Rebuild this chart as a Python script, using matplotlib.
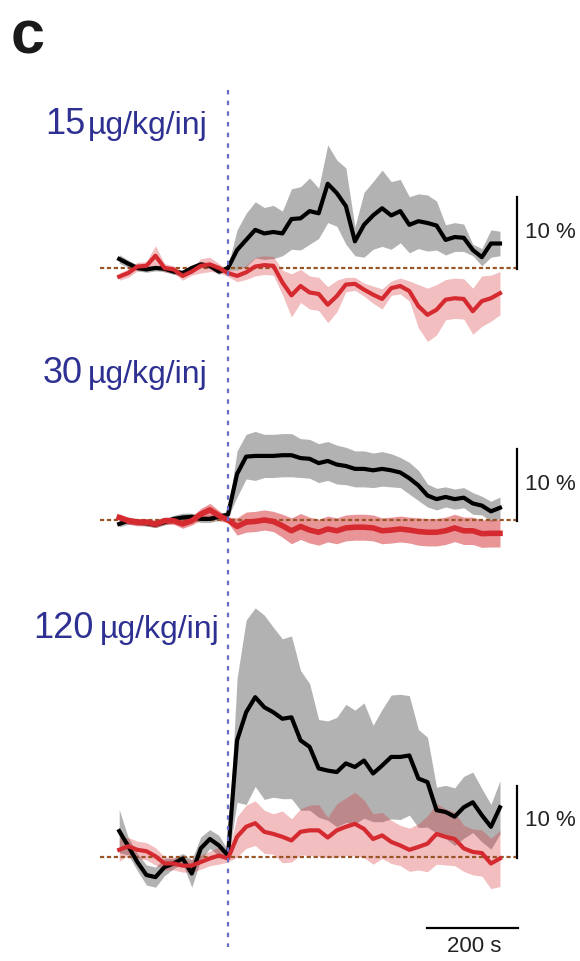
import numpy as np
import matplotlib
matplotlib.use("Agg")
import matplotlib.pyplot as plt

plt.rcParams['font.family'] = ['Liberation Sans', 'DejaVu Sans']

# ---------------- data ----------------
time_s = np.arange(-240, 601, 20)

doses = ["15", "30", "120"]
dose_unit = "µg/kg/inj"

# panel 1 (15 ug/kg/inj)
p1_black_mean = [1.25, 0.6, 0.0, -0.2, 0.0, -0.1, -0.5, -0.7, 0.0, 0.5, 0.3, -0.5, 0.0,
                 2.5, 3.9, 5.3, 4.8, 5.0, 4.8, 6.8, 6.9, 7.9, 7.6,
                 11.7, 10.4, 8.6, 3.7, 6.0, 7.3, 8.3, 7.3, 7.9, 6.0,
                 6.5, 6.25, 5.9, 3.9, 4.3, 4.2, 2.5, 1.5, 3.4, 3.4]
p1_black_sem = [0.6, 0.5, 0.4, 0.4, 0.4, 0.4, 0.4, 0.4, 0.4, 0.4, 0.4, 0.4, 0.3,
                2.8, 3.7, 3.9, 3.6, 3.7, 3.1, 4.2, 4.4, 4.6, 3.5,
                5.4, 4.6, 5.3, 2.0, 4.5, 4.7, 5.3, 4.7, 4.4, 3.9,
                3.8, 3.9, 3.4, 2.1, 2.0, 1.9, 0.8, 1.2, 1.9, 1.7]
p1_red_mean = [-1.2, -0.7, 0.2, 0.3, 1.7, 0.0, -0.2, -1.1, -0.5, 0.3, 0.5, 0.0, -0.7,
               -1.1, -0.6, 0.2, 0.4, 0.3, -2.0, -3.8, -2.5, -3.4, -3.6,
               -5.1, -3.9, -2.3, -2.2, -3.0, -3.7, -4.3, -2.8, -2.5, -3.2,
               -5.3, -6.5, -5.8, -4.4, -4.2, -4.3, -6.0, -4.6, -4.2, -3.5]
p1_red_sem = [0.5, 0.6, 0.6, 0.6, 1.4, 0.6, 0.5, 0.6, 0.5, 1.0, 1.0, 0.6, 0.5,
              0.8, 1.0, 1.3, 1.3, 1.3, 1.7, 3.0, 2.3, 2.3, 2.3,
              2.5, 2.2, 1.0, 0.9, 0.9, 1.2, 1.4, 1.0, 1.1, 1.4,
              3.0, 3.7, 3.5, 2.8, 2.8, 2.8, 3.2, 3.5, 3.2, 3.0]

# panel 2 (30 ug/kg/inj)
p2_black_mean = [-0.55, -0.1, -0.3, -0.45, -0.65, -0.3, 0.15, 0.35, 0.45, 0.15, 0.15, 0.45, 0.75,
                 6.4, 8.8, 8.9, 8.9, 8.9, 9.0, 9.0, 8.6, 8.5, 7.9,
                 8.2, 7.7, 7.5, 7.1, 7.1, 6.9, 7.1, 6.9, 6.6, 5.8,
                 4.8, 3.4, 2.9, 3.2, 2.9, 3.1, 2.3, 2.0, 1.2, 1.7]
p2_black_sem = [0.4, 0.5, 0.4, 0.4, 0.4, 0.4, 0.5, 0.6, 0.5, 0.5, 0.5, 0.5, 0.4,
                3.2, 3.1, 3.4, 3.0, 3.0, 3.0, 3.0, 2.7, 2.7, 2.7,
                2.7, 2.7, 2.6, 2.5, 2.5, 2.4, 2.4, 2.3, 2.1, 2.2,
                2.1, 1.6, 1.5, 1.4, 1.4, 1.4, 1.5, 1.3, 1.4, 1.5]
p2_red_mean = [0.35, -0.1, -0.3, -0.3, -0.55, -0.1, -0.1, -0.55, -0.1, 0.8, 1.4, 0.6, 0.0,
               -0.9, -0.3, -0.2, 0.0, -0.2, -0.8, -1.5, -0.9, -1.4, -1.7,
               -1.25, -1.5, -1.1, -1.0, -1.0, -1.1, -1.5, -1.4, -1.25, -1.4,
               -1.6, -1.7, -1.7, -1.5, -1.1, -1.5, -1.5, -1.9, -1.85, -1.85]
p2_red_sem = [0.5, 0.5, 0.5, 0.5, 0.5, 0.5, 0.5, 0.6, 0.6, 0.8, 0.9, 0.7, 0.4,
              1.2, 1.4, 1.4, 1.4, 1.4, 1.6, 1.8, 1.8, 1.8, 1.8,
              1.8, 1.8, 1.8, 1.8, 1.8, 1.8, 1.8, 1.8, 1.8, 1.8,
              1.9, 1.9, 1.9, 1.9, 1.9, 1.9, 1.9, 1.9, 1.9, 1.9]

# panel 3 (120 ug/kg/inj)
p3_black_mean = [3.6, 1.5, -0.7, -2.5, -2.8, -1.4, -0.9, -0.2, -2.3, 1.2, 2.5, 1.6, 0.2,
                 16.2, 20.1, 22.2, 20.8, 20.1, 19.2, 19.4, 16.2, 15.3, 12.3,
                 12.0, 11.8, 13.0, 12.5, 13.4, 11.6, 12.7, 13.9, 13.9, 14.1,
                 10.9, 10.4, 6.5, 6.25, 5.6, 6.9, 7.6, 5.8, 4.2, 6.9]
p3_black_sem = [3.0, 1.2, 1.2, 1.4, 1.4, 1.2, 0.7, 0.7, 1.9, 1.6, 1.3, 1.4, 0.7,
                8.6, 12.8, 12.4, 12.8, 11.8, 11.1, 11.3, 9.7, 8.8, 6.8,
                6.9, 7.6, 8.2, 7.9, 8.0, 6.7, 7.8, 8.6, 8.7, 8.3,
                6.8, 6.25, 3.2, 3.7, 4.0, 4.3, 4.2, 3.7, 3.1, 3.7]
p3_red_mean = [1.0, 1.5, 1.0, 0.8, 0.1, -0.9, -0.9, -1.2, -1.2, -0.7, -0.2, 0.2, -0.2,
               2.8, 4.2, 4.7, 3.5, 3.2, 2.8, 2.3, 3.5, 3.7, 3.7,
               2.7, 3.7, 4.2, 4.6, 3.9, 2.5, 3.0, 2.1, 1.6, 1.0,
               1.4, 1.85, 3.2, 2.8, 2.5, 1.2, 0.7, 0.55, -0.9, -0.2]
p3_red_sem = [1.6, 1.2, 1.2, 1.2, 1.2, 0.9, 0.9, 0.9, 0.9, 1.0, 1.0, 1.2, 0.5,
              2.8, 3.0, 3.1, 3.0, 2.8, 3.6, 3.0, 3.2, 3.5, 3.6,
              2.8, 3.7, 4.0, 4.4, 4.0, 3.5, 3.2, 3.0, 2.8, 3.0,
              3.2, 3.9, 4.2, 3.9, 3.7, 3.2, 3.2, 3.2, 3.5, 3.9]

panels = [
    (p1_black_mean, p1_black_sem, p1_red_mean, p1_red_sem),
    (p2_black_mean, p2_black_sem, p2_red_mean, p2_red_sem),
    (p3_black_mean, p3_black_sem, p3_red_mean, p3_red_sem),
]

# ---------------- layout ----------------
W, H = 580, 961
PX_PER_S = 0.45333
X0 = 228  # pixel of t = 0
XL = ((0 - X0) / PX_PER_S, (W - X0) / PX_PER_S)
PX_PER_PCT = 7.2

def px2t(px):
    return (px - X0) / PX_PER_S

# (top_px, bottom_px, baseline_px)
panel_boxes = [(130, 350, 268), (410, 565, 520), (600, 905, 857)]
red_alpha = [0.3, 0.5, 0.3]
red_lw = [3.0, 4.0, 3.0]
label_pos = [(45, 88, 134), (43, 88, 383), (33, 100, 638)]  # num x, unit x, baseline y (px)

RED = '#d42a30'
NAVY = '#2e3192'
BROWN = '#9a5526'
VLINE = '#6b6bc4'

fig = plt.figure(figsize=(W / 100, H / 100), dpi=100)

for i, (bm, bs, rm, rs) in enumerate(panels):
    top, bot, base = panel_boxes[i]
    ax = fig.add_axes([0, 1 - bot / H, 1, (bot - top) / H])
    ax.set_xlim(XL)
    ax.set_ylim((base - bot) / PX_PER_PCT, (base - top) / PX_PER_PCT)
    ax.axis('off')
    bm, bs, rm, rs = map(np.asarray, (bm, bs, rm, rs))
    ax.fill_between(time_s, bm - bs, bm + bs, color='black', alpha=0.3, lw=0, zorder=1)
    ax.fill_between(time_s, rm - rs, rm + rs, color=RED, alpha=red_alpha[i], lw=0, zorder=2)
    ax.plot([px2t(100), px2t(517)], [0, 0], color=BROWN, lw=1.6,
            dashes=(1.9, 1.2), zorder=3)
    ax.plot(time_s, bm, color='black', lw=3.0, zorder=4)
    ax.plot(time_s, rm, color=RED, lw=red_lw[i], zorder=5)
    # 10 % scale bar
    ax.plot([px2t(517), px2t(517)], [-0.2, 9.8], color='black', lw=1.6, zorder=6)
    ax.text(px2t(525), 5.0, "10 %", fontsize=16, va='center', ha='left', color='#222222')

# overlay for shared annotations
ax0 = fig.add_axes([0, 0, 1, 1], zorder=10)
ax0.set_xlim(XL)
ax0.set_ylim(H, 0)
ax0.axis('off')
ax0.patch.set_alpha(0)
ax0.plot([0, 0], [90, 947], color=VLINE, lw=1.6, dashes=(2.0, 2.8))
ax0.plot([px2t(427), px2t(427) + 200], [928, 928], color='black', lw=1.6)
ax0.text(px2t(427) + 100 + 5, 946, "200 s", fontsize=16, ha='center', va='center', color='#222222')
ax0.text(px2t(11), 54, "c", fontsize=44, fontweight='bold', ha='left', va='baseline', color='#1a1a1a')

for d, (nx, ux, by) in zip(doses, label_pos):
    ax0.text(px2t(nx), by, d, fontsize=26, color=NAVY, ha='left', va='baseline')
    ax0.text(px2t(ux), by, dose_unit, fontsize=23, color=NAVY, ha='left', va='baseline')

fig.savefig("out.png", dpi=100)
